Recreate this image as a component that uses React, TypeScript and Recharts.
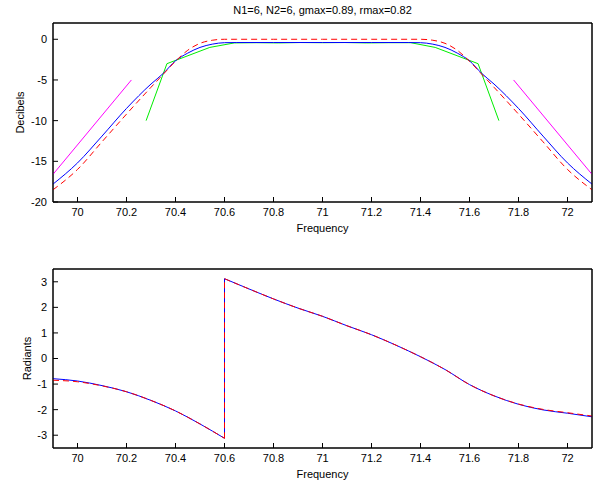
import React from 'react';
import { LineChart, Line, XAxis, YAxis, Label, ReferenceArea } from 'recharts';

// frequency grid (left skirt, passband, right skirt)
const freqs = [69.9, 70.0, 70.1, 70.2, 70.3, 70.35, 70.4, 70.45, 70.5, 70.55, 70.6, 70.65, 70.7, 70.8, 70.9, 71.0, 71.1, 71.2, 71.3, 71.35, 71.4, 71.45, 71.5, 71.55, 71.6, 71.65, 71.7, 71.8, 71.9, 72.0, 72.1];
const blueDb = [-17.8, -15.2, -11.9, -8.5, -5.5, -4.2, -2.65, -1.7, -1.0, -0.6, -0.42, -0.4, -0.4, -0.4, -0.4, -0.4, -0.4, -0.4, -0.4, -0.4, -0.42, -0.6, -1.0, -1.7, -2.65, -4.2, -5.5, -8.5, -11.9, -15.2, -17.8];
const redDb = [-18.5, -16.0, -12.6, -9.2, -5.9, -4.3, -2.7, -1.35, -0.5, -0.12, 0, 0, 0, 0, 0, 0, 0, 0, 0, 0, 0, -0.12, -0.5, -1.35, -2.7, -4.3, -5.9, -9.2, -12.6, -16.0, -18.5];

const greenFreq = [70.28, 70.365, 70.54, 70.64, 70.73, 70.82, 70.91, 71.0, 71.09, 71.18, 71.27, 71.36, 71.46, 71.635, 71.72];
const greenDb = [-10, -3, -1, -0.45, -0.42, -0.45, -0.4, -0.42, -0.4, -0.45, -0.42, -0.42, -1, -3, -10];

const magLeftFreq = [69.9, 70.22];
const magLeftDb = [-16.6, -5];
const magRightFreq = [71.78, 72.1];
const magRightDb = [-5, -16.6];

// phase, split at the wrap at 70.6
const phaseFreqA = [69.9, 70.0, 70.1, 70.2, 70.3, 70.4, 70.5, 70.6];
const bluePhaseA = [-0.79, -0.88, -1.06, -1.3, -1.64, -2.05, -2.56, -3.12];
const redPhaseA = [-0.85, -0.91, -1.07, -1.3, -1.64, -2.05, -2.56, -3.12];
const phaseFreqB = [70.6, 70.7, 70.8, 70.9, 71.0, 71.1, 71.2, 71.3, 71.4, 71.5, 71.6, 71.7, 71.8, 71.9, 72.0, 72.1];
const bluePhaseB = [3.12, 2.72, 2.33, 1.97, 1.65, 1.28, 0.93, 0.52, 0.07, -0.43, -1.02, -1.46, -1.79, -2.01, -2.14, -2.28];
const redPhaseB = [3.12, 2.72, 2.33, 1.97, 1.65, 1.28, 0.93, 0.52, 0.07, -0.43, -1.02, -1.46, -1.78, -1.99, -2.12, -2.25];

const xTicks = [70, 70.2, 70.4, 70.6, 70.8, 71, 71.2, 71.4, 71.6, 71.8, 72];
const dbTicks = [-20, -15, -10, -5, 0];
const phaseTicks = [-3, -2, -1, 0, 1, 2, 3];

const title = 'N1=6, N2=6, gmax=0.89, rmax=0.82';

const zip = (xs: number[], ys: number[]) => xs.map((x, i) => ({ x, y: ys[i] }));
const jump = (a: number[], b: number[]) => [
  { x: phaseFreqA[phaseFreqA.length - 1], y: a[a.length - 1] },
  { x: phaseFreqB[0], y: b[0] },
];

const FONT = 'Liberation Sans, Arial, sans-serif';
const tickStyle = { fontSize: 11, fill: '#000', fontFamily: FONT };
const labelStyle = { fontSize: 11, fill: '#000', fontFamily: FONT, textAnchor: 'middle' as const };
const fmt = (v: number) => String(Math.round(v * 10) / 10);

export default function App() {
  const xDomain: [number, number] = [69.9, 72.1];

  const axes = (yDomain: [number, number], yTicks: number[], yLabel: string, yOff: number, withTitle: boolean) => [
    <XAxis key="xb" xAxisId="b" type="number" dataKey="x" domain={xDomain} ticks={xTicks} allowDataOverflow
      tickSize={-5} tickMargin={11} height={20} tick={tickStyle} tickFormatter={fmt}
      axisLine={{ stroke: '#000' }} tickLine={{ stroke: '#000' }} interval={0}>
      <Label value="Frequency" position="insideBottom" offset={-10} style={labelStyle} />
    </XAxis>,
    <XAxis key="xt" xAxisId="t" orientation="top" type="number" dataKey="x" domain={xDomain} ticks={xTicks} allowDataOverflow
      tickSize={-5} height={1} tick={false} axisLine={{ stroke: '#000' }} tickLine={{ stroke: '#000' }} interval={0}>
      {withTitle ? <Label value={title} position="top" offset={8} style={labelStyle} /> : null}
    </XAxis>,
    <YAxis key="yl" yAxisId="l" type="number" domain={yDomain} ticks={yTicks} allowDataOverflow
      tickSize={-5} tickMargin={11} width={40} tick={tickStyle}
      axisLine={{ stroke: '#000' }} tickLine={{ stroke: '#000' }} interval={0}>
      <Label value={yLabel} angle={-90} position="insideLeft" offset={yOff} style={labelStyle} />
    </YAxis>,
    <YAxis key="yr" yAxisId="r" orientation="right" type="number" domain={yDomain} ticks={yTicks} allowDataOverflow
      tickSize={-5} width={1} tick={false} axisLine={{ stroke: '#000' }} tickLine={{ stroke: '#000' }} interval={0} />,
    // plot border
    <ReferenceArea key="frame" xAxisId="b" yAxisId="l" x1={xDomain[0]} x2={xDomain[1]} y1={yDomain[0]} y2={yDomain[1]}
      fill="none" fillOpacity={0} stroke="#000" strokeOpacity={1} ifOverflow="visible" />,
  ];

  const common = { xAxisId: 'b', yAxisId: 'l', dataKey: 'y', dot: false, activeDot: false, isAnimationActive: false, strokeWidth: 1 };
  // invisible series so the mirrored top/right axes get drawn
  const ghost = (data: { x: number; y: number }[]) => (
    <Line xAxisId="t" yAxisId="r" dataKey="y" data={data} stroke="none" dot={false} activeDot={false} isAnimationActive={false} />
  );

  return (
    <div style={{ position: 'absolute', left: 0, top: 0, width: 600, height: 484, background: '#fff' }}>
      <div style={{ position: 'absolute', left: 0, top: 0 }}>
        <LineChart width={600} height={240} margin={{ top: 22, right: 7, bottom: 18, left: 13 }}>
          {axes([-20, 2], dbTicks, 'Decibels', 7, true)}
          {ghost(zip(freqs, blueDb))}
          <Line {...common} data={zip(magLeftFreq, magLeftDb)} stroke="#ff00ff" />
          <Line {...common} data={zip(magRightFreq, magRightDb)} stroke="#ff00ff" />
          <Line {...common} data={zip(greenFreq, greenDb)} stroke="#00ee00" />
          <Line {...common} data={zip(freqs, blueDb)} stroke="#0000ff" type="monotone" />
          <Line {...common} data={zip(freqs, redDb)} stroke="#ff0000" type="monotone" strokeDasharray="6 4" />
        </LineChart>
      </div>
      <div style={{ position: 'absolute', left: 0, top: 246 }}>
        <LineChart width={600} height={238} margin={{ top: 22, right: 7, bottom: 16, left: 13 }}>
          {axes([-3.5, 3.5], phaseTicks, 'Radiants', 14, false)}
          {ghost(zip(phaseFreqB, bluePhaseB))}
          <Line {...common} data={zip(phaseFreqA, bluePhaseA)} stroke="#0000ff" type="monotone" />
          <Line {...common} data={jump(bluePhaseA, bluePhaseB)} stroke="#0000ff" />
          <Line {...common} data={zip(phaseFreqB, bluePhaseB)} stroke="#0000ff" type="monotone" />
          <Line {...common} data={zip(phaseFreqA, redPhaseA)} stroke="#ff0000" type="monotone" strokeDasharray="6 4" />
          <Line {...common} data={jump(redPhaseA, redPhaseB)} stroke="#ff0000" strokeDasharray="6 4" />
          <Line {...common} data={zip(phaseFreqB, redPhaseB)} stroke="#ff0000" type="monotone" strokeDasharray="6 4" />
        </LineChart>
      </div>
    </div>
  );
}
